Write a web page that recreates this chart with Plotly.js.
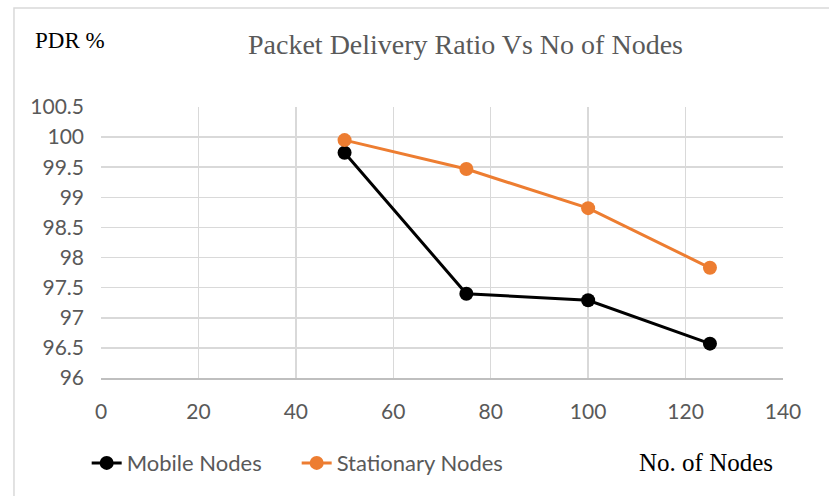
<!DOCTYPE html>
<html>
<head>
<meta charset="utf-8">
<script src="https://cdn.plot.ly/plotly-3.0.1.min.js"></script>
<style>html,body{margin:0;padding:0;background:#fff;}#chart{width:829px;height:496px;}</style>
</head>
<body>
<div id="chart"></div>
<script>
const nodes = [50, 75, 100, 125];
const mobileNodes = [99.74, 97.40, 97.29, 96.57];
const stationaryNodes = [99.95, 99.47, 98.82, 97.83];
const xTicks = [0, 20, 40, 60, 80, 100, 120, 140];
const yTicks = [96, 96.5, 97, 97.5, 98, 98.5, 99, 99.5, 100, 100.5];

const tickFont = {family: 'Lato, "Open Sans", sans-serif', size: 21, color: '#595959'};
const legendFont = {family: 'Lato, "Open Sans", sans-serif', size: 22, color: '#595959'};

const traces = [
  {x: nodes, y: mobileNodes, name: 'Mobile Nodes', type: 'scatter', mode: 'lines+markers',
   line: {color: '#000000', width: 3}, marker: {color: '#000000', size: 14}},
  {x: nodes, y: stationaryNodes, name: 'Stationary Nodes', type: 'scatter', mode: 'lines+markers',
   line: {color: '#ED7D31', width: 3}, marker: {color: '#ED7D31', size: 14}}
];

const layout = {
  width: 829, height: 496,
  margin: {l: 101, r: 46, t: 107, b: 118},
  paper_bgcolor: '#ffffff', plot_bgcolor: '#ffffff',
  showlegend: true,
  legend: {orientation: 'h', x: -0.021, y: -0.314, xanchor: 'left', yanchor: 'middle',
           font: legendFont, itemwidth: 30, entrywidth: 165, entrywidthmode: 'pixels',
           bgcolor: 'rgba(0,0,0,0)'},
  xaxis: {range: [0, 140], tickvals: xTicks, ticktext: xTicks.map(String),
          showgrid: true, gridcolor: '#d9d9d9', gridwidth: 1.5, zeroline: false,
          showline: true, linecolor: '#bfbfbf', linewidth: 1.5,
          ticks: '', ticklabelstandoff: 14, tickfont: tickFont, fixedrange: true},
  yaxis: {range: [96, 100.5], tickvals: yTicks, ticktext: yTicks.map(String),
          showgrid: true, gridcolor: '#d9d9d9', gridwidth: 1.5, zeroline: false,
          showline: false, ticks: '', ticklabelstandoff: 16, tickfont: tickFont, fixedrange: true},
  annotations: [
    {text: 'Packet Delivery Ratio Vs No of Nodes', xref: 'paper', yref: 'paper',
     x: 0.535, y: 1.23, xanchor: 'center', yanchor: 'middle', showarrow: false,
     font: {family: '"Liberation Serif", "Times New Roman", serif', size: 28, color: '#595959'}},
    {text: 'PDR %', xref: 'paper', yref: 'paper', x: -0.1, y: 1.245, xanchor: 'left', yanchor: 'middle',
     showarrow: false, font: {family: '"Liberation Serif", "Times New Roman", serif', size: 23, color: '#000000'}},
    {text: 'No. of Nodes', xref: 'paper', yref: 'paper', x: 0.786, y: -0.31, xanchor: 'left', yanchor: 'middle',
     showarrow: false, font: {family: '"Liberation Serif", "Times New Roman", serif', size: 25, color: '#000000'}}
  ],
  shapes: [
    {type: 'rect', xref: 'paper', yref: 'paper', x0: -0.1276, x1: 1.2, y0: -0.6, y1: 1.365,
     line: {color: '#d9d9d9', width: 1.5}, fillcolor: 'rgba(0,0,0,0)', layer: 'below'}
  ]
};

Plotly.newPlot('chart', traces, layout, {displayModeBar: false, staticPlot: true});
</script>
</body>
</html>
